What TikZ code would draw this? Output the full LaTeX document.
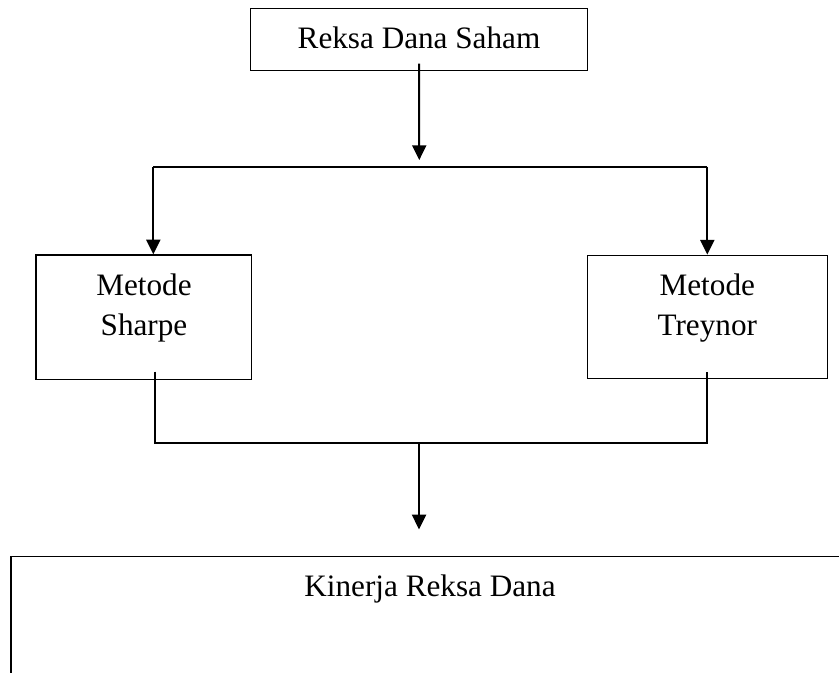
\documentclass[tikz,border=0pt]{standalone}
\usepackage{fontspec}
\setmainfont{Liberation Serif}
\usetikzlibrary{arrows.meta,calc}
\begin{document}
\begin{tikzpicture}[x=0.75pt,y=-0.75pt,
  box/.style={draw,line width=1pt,inner sep=0pt},
  conn/.style={line width=1.5pt},
  arr/.style={conn,-{Triangle[width=10.5pt,length=11pt]}},
  txt/.style={font=\fontsize{23.4pt}{29.5pt}\selectfont,inner sep=0pt,align=center}]
\useasboundingbox (0,0) rectangle (839,672);
\clip (0,0) rectangle (839,672);
% boxes
\node[box,minimum width=252.45pt,minimum height=46.5pt] (top) at (419,39.3) {};
\node[box,minimum width=161.8pt,minimum height=93.2pt] (lbox) at (143.85,317.15) {};
\node[box,minimum width=180pt,minimum height=92.55pt] (rbox) at (707.3,317) {};
\node[box,minimum width=636.75pt,minimum height=107.5pt] (kbox) at (435.5,628.35) {};
% texts
\node[txt,anchor=base] (ttop) at (419,48.3) {Reksa Dana Saham};
\node[txt] (tl) at (144,308) {Metode\\Sharpe};
\node[txt] (tr) at (707.3,308) {Metode\\Treynor};
\node[txt,anchor=base] (tk) at (430,596.7) {Kinerja Reksa Dana};
% junctions
\coordinate (jt) at (419.3,166.7);
\coordinate (jl) at (153.3,166.7);
\coordinate (jr) at (707.3,166.7);
\coordinate (bl) at (155.3,443.3);
\coordinate (br) at (707.3,443.3);
\coordinate (bm) at (419,443.3);
% connectors
\draw[arr,shorten >=5pt] ($(top.south)+(0,-7.3)$) -- (jt);
\draw[conn] (jl) -- (jr);
\draw[arr] (jl) -- (jl |- lbox.north);
\draw[arr] (jr) -- (jr |- rbox.north);
\draw[conn] ($(lbox.south -| bl)+(0,-8.3)$) -- (bl) -- (br) -- ($(rbox.south -| br)+(0,-7)$);
\draw[arr,shorten >=20pt] (bm) -- (bm |- kbox.north);
\end{tikzpicture}
\end{document}
